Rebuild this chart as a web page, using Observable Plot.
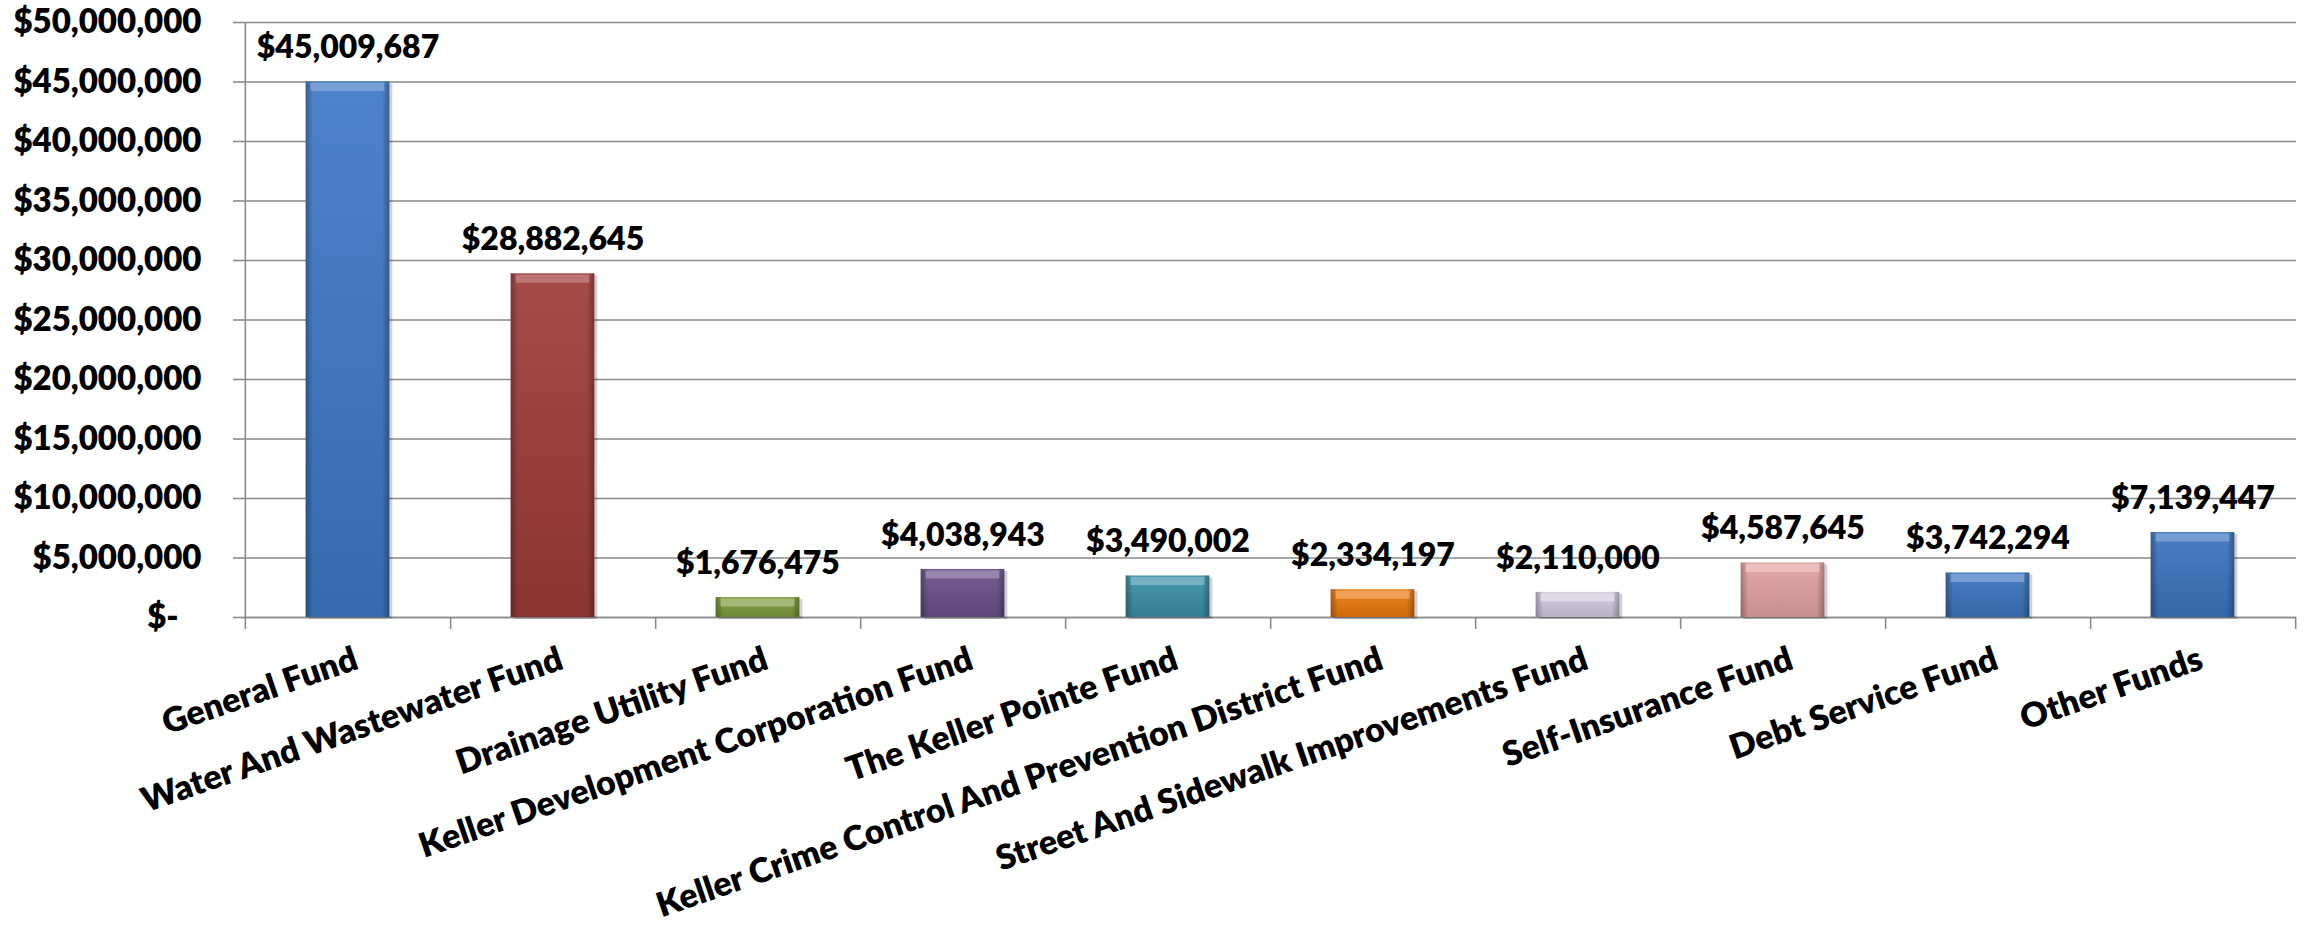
<!DOCTYPE html>
<html>
<head>
<meta charset="utf-8">
<script src="https://cdn.jsdelivr.net/npm/d3@7"></script>
<script src="https://cdn.jsdelivr.net/npm/@observablehq/plot@0.6"></script>
<style>
  html, body { margin: 0; padding: 0; background: #fff; }
  #chart svg { display: block; }
</style>
</head>
<body>
<div id="chart"></div>
<script>
// ---- data ----
const categories = [
  "General Fund",
  "Water And Wastewater Fund",
  "Drainage Utility Fund",
  "Keller Development Corporation Fund",
  "The Keller Pointe Fund",
  "Keller Crime Control And Prevention District Fund",
  "Street And Sidewalk Improvements Fund",
  "Self-Insurance Fund",
  "Debt Service Fund",
  "Other Funds"
];
const values = [45009687, 28882645, 1676475, 4038943, 3490002, 2334197, 2110000, 4587645, 3742294, 7139447];
const barColors = ["#3d78c6", "#9e3b39", "#7b9a3c", "#6a5089", "#3a8fa6", "#ea780f", "#d2cade", "#e2a1a1", "#3b74bf", "#3b74bf"];
const yTicks = [0, 5000000, 10000000, 15000000, 20000000, 25000000, 30000000, 35000000, 40000000, 45000000, 50000000];

const rows = categories.map((c, i) => ({category: c, value: values[i], grad: `url(#bar-grad-${i})`, top: d3.interpolateRgb(barColors[i], "#ffffff")(0.3)}));

// ---- layout ----
const W = 2310, H = 927;
const mL = 243, mR = 14, mT = 22, mB = 310;
const step = (W - mL - mR) / categories.length;
const barInset = (step - 84) / 2;
const font = "Lato, 'Open Sans', sans-serif";
const weight = 800;

const money = d => d === 0 ? "$-\u00A0\u00A0\u00A0" : "$" + d3.format(",")(d);

const plot = Plot.plot({
  width: W,
  height: H,
  marginLeft: mL,
  marginRight: mR,
  marginTop: mT,
  marginBottom: mB,
  style: {fontFamily: font, fontWeight: weight, color: "#000", background: "#fff", overflow: "visible"},
  x: {domain: categories, padding: 0, label: null},
  y: {domain: [0, 50000000], label: null},
  color: {type: "identity"},
  marks: [
    Plot.gridY(yTicks, {stroke: "#8a8a8a", strokeOpacity: 1, strokeWidth: 1.6}),
    Plot.axisY({ticks: yTicks, tickFormat: money, tickSize: 10, tickPadding: 32, fontSize: 33, stroke: "#8a8a8a", strokeWidth: 1.6, label: null, fontWeight: weight}),
    // left axis line
    Plot.ruleX([categories[0]], {x: d => d, y1: 50000000, y2: 0, dx: -step / 2, insetBottom: -12, stroke: "#8a8a8a", strokeWidth: 1.6}),
    // baseline
    Plot.ruleY([0], {stroke: "#8a8a8a", strokeWidth: 1.6}),
    // boundary ticks below the baseline
    Plot.ruleX(categories, {x: d => d, y1: 0, y2: 0, dx: step / 2, insetBottom: -12, stroke: "#8a8a8a", strokeWidth: 1.6}),
    // shadow
    Plot.barY(rows, {x: "category", y: "value", insetLeft: barInset, insetRight: barInset, fill: "#000", fillOpacity: 0.18, dx: 3, dy: 2}),
    // bars with vertical gradient
    Plot.barY(rows, {x: "category", y: "value", insetLeft: barInset, insetRight: barInset, fill: "grad"}),
    // side shading
    Plot.barY(rows, {x: "category", y: "value", insetLeft: barInset, insetRight: barInset, fill: () => "url(#side-shade)"}),
    // top bevel highlight
    Plot.tickY(rows, {x: "category", y: "value", insetLeft: barInset + 5, insetRight: barInset + 5, stroke: "top", strokeWidth: 8, dy: 5}),
    // value labels
    Plot.text(rows, {x: "category", y: "value", text: d => money(d.value), fontSize: 32, fontWeight: weight, fill: "#000", dy: -34, lineAnchor: "middle"}),
    // category labels
    Plot.axisX({tickSize: 0, tickPadding: 28, tickRotate: -19, fontSize: 34, fontWeight: weight, textAnchor: "end", lineAnchor: "top", dx: 4, label: null})
  ]
});

// gradients defined through d3 and referenced by the bar fills
const svg = d3.select(plot);
const defs = svg.insert("defs", ":first-child");
barColors.forEach((c, i) => {
  const g = defs.append("linearGradient").attr("id", `bar-grad-${i}`).attr("x1", 0).attr("y1", 0).attr("x2", 0).attr("y2", 1);
  g.append("stop").attr("offset", "0%").attr("stop-color", d3.interpolateRgb(c, "#ffffff")(0.08));
  g.append("stop").attr("offset", "100%").attr("stop-color", d3.interpolateRgb(c, "#000000")(0.12));
});
const s = defs.append("linearGradient").attr("id", "side-shade").attr("x1", 0).attr("y1", 0).attr("x2", 1).attr("y2", 0);
s.append("stop").attr("offset", "0%").attr("stop-color", "#000").attr("stop-opacity", 0.28);
s.append("stop").attr("offset", "9%").attr("stop-color", "#000").attr("stop-opacity", 0.0);
s.append("stop").attr("offset", "91%").attr("stop-color", "#000").attr("stop-opacity", 0.0);
s.append("stop").attr("offset", "100%").attr("stop-color", "#000").attr("stop-opacity", 0.28);

document.getElementById("chart").appendChild(plot);
</script>
</body>
</html>
